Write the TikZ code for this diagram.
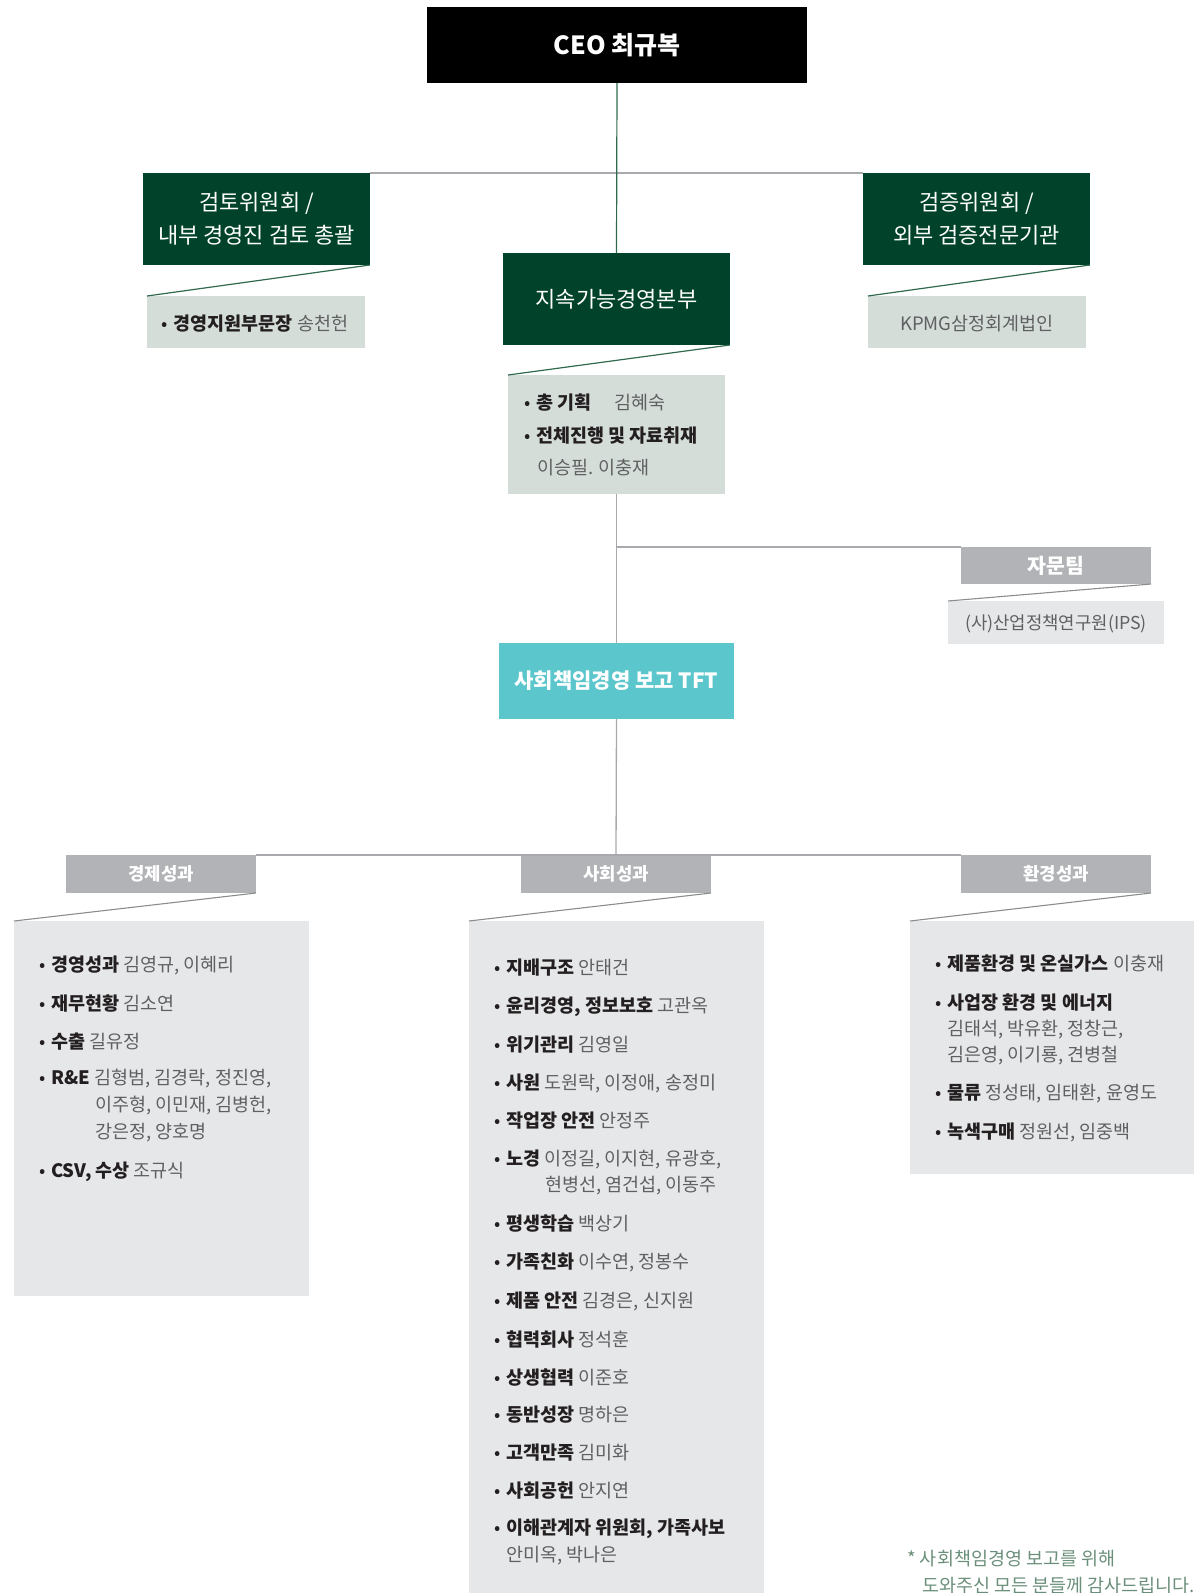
\documentclass[tikz,border=0pt]{standalone}
\usepackage{fontspec}
\setmainfont{Noto Sans CJK KR}
\definecolor{dkgreen}{HTML}{00432A}
\definecolor{subgreen}{HTML}{D5DDD9}
\definecolor{biggray}{HTML}{E6E7E9}
\definecolor{labgray}{HTML}{B1B3B6}
\definecolor{teal}{HTML}{5BC6CB}
\definecolor{linegray}{HTML}{A7A9AC}
\definecolor{diaggray}{HTML}{8A8C8E}
\definecolor{lgreen}{HTML}{2F6A4E}
\definecolor{bk}{HTML}{231F20}
\definecolor{nm}{HTML}{5F6062}
\definecolor{foot}{HTML}{6B8F7A}
\newcommand{\bul}[1]{\makebox[12pt][l]{\textcolor{bk}{•}}\textcolor{bk}{\textbf{#1}}}
\tikzset{
  box/.style={anchor=north west, inner sep=0pt, outer sep=0pt, draw=none},
  dkbox/.style={box, fill=dkgreen, text=white, align=center, font=\fontsize{22}{33}\selectfont},
  subbox/.style={box, fill=subgreen},
  bigbox/.style={box, fill=biggray},
  labbox/.style={box, fill=labgray, text=white, font=\fontsize{17.8}{20}\bfseries\selectfont},
  txt/.style={anchor=west, inner sep=0pt, text=nm, font=\fontsize{18.5}{22}\selectfont},
  ctxt/.style={anchor=center, inner sep=0pt, text=nm, font=\fontsize{18.5}{22}\selectfont},
  gline/.style={draw=linegray, line width=1.3pt},
  grline/.style={draw=lgreen, line width=1.2pt},
  dgline/.style={draw=diaggray, line width=1.1pt},
}
\begin{document}
\begin{tikzpicture}[x=1pt,y=-1pt]
\useasboundingbox (0,0) rectangle (1194,1593);
% ---------- boxes ----------
\node[box, fill=black, text=white, minimum width=380pt, minimum height=76pt, font=\fontsize{25}{30}\bfseries\selectfont] (ceo) at (427,7) {CEO 최규복};
\node[dkbox, minimum width=227pt, minimum height=92pt] (rev) at (143,173) {검토위원회 /\\내부 경영진 검토 총괄};
\node[dkbox, minimum width=227pt, minimum height=92pt] (sus) at (503,253) {지속가능경영본부};
\node[dkbox, minimum width=227pt, minimum height=92pt] (ver) at (863,173) {검증위원회 /\\외부 검증전문기관};
\node[subbox, minimum width=218pt, minimum height=52pt] (revsub) at (147,296) {};
\node[subbox, minimum width=217pt, minimum height=119pt] (sussub) at (508,375) {};
\node[subbox, minimum width=218pt, minimum height=52pt] (versub) at (868,296) {};
\node[box, fill=labgray, text=white, minimum width=190pt, minimum height=37pt, font=\fontsize{20.5}{24}\bfseries\selectfont] (adv) at (961,547) {자문팀};
\node[bigbox, minimum width=216pt, minimum height=43pt] (advsub) at (948,601) {};
\node[box, fill=teal, text=white, minimum width=235pt, minimum height=76pt, font=\fontsize{21}{25}\bfseries\selectfont] (tft) at (499,643) {사회책임경영 보고 TFT};
\node[labbox, minimum width=190pt, minimum height=38pt] (eco) at (66,855) {경제성과};
\node[labbox, minimum width=190pt, minimum height=38pt] (soc) at (521,855) {사회성과};
\node[labbox, minimum width=190pt, minimum height=38pt] (env) at (961,855) {환경성과};
\node[bigbox, minimum width=295pt, minimum height=375pt] (ecobig) at (14,921) {};
\node[bigbox, minimum width=295pt, minimum height=680pt] (socbig) at (469,921) {};
\node[bigbox, minimum width=284pt, minimum height=253pt] (envbig) at (910,921) {};
% ---------- connectors ----------
\coordinate (j1) at (617,547);
\draw[gline] (rev.north east) -- (ver.north west);
\draw[grline] (ceo.south) -- (sus.north);
\draw[grline] (rev.south east) -- (revsub.north west);
\draw[grline] (sus.south east) -- (sussub.north west);
\draw[grline] (ver.south east) -- (versub.north west);
\draw[gline] (sussub.south) -- (tft.north);
\draw[gline] (j1) -- (adv.north west);
\draw[dgline] (adv.south east) -- (advsub.north west);
\draw[gline] (tft.south) -- (soc.north);
\draw[gline] (eco.north east) -- (env.north west);
\draw[dgline] (eco.south east) -- (ecobig.north west);
\draw[dgline] (soc.south east) -- (socbig.north west);
\draw[dgline] (env.south east) -- (envbig.north west);
% ---------- top sub texts ----------
\node[ctxt] (revt) at (255,324) {\bul{경영지원부문장} 송천헌};
\node[ctxt] (vert) at (977,324) {KPMG삼정회계법인};
\node[ctxt, font=\fontsize{17.8}{22}\selectfont] (advt) at (1056,624) {(사)산업정책연구원(IPS)};
\node[txt] (s1) at (524,403) {\bul{총 기획}};
\node[txt] (s1n) at (614,403) {김혜숙};
\node[txt] (s2) at (524,436) {\bul{전체진행 및 자료취재}};
\node[txt] (s3) at (537,468) {이승필. 이충재};
% ---------- economic ----------
\node[txt] (e1) at (39,965) {\bul{경영성과} 김영규, 이혜리};
\node[txt] (e2) at (39,1004) {\bul{재무현황} 김소연};
\node[txt] (e3) at (39,1042) {\bul{수출} 길유정};
\node[txt] (e4) at (39,1079) {\bul{R\&E} 김형범, 김경락, 정진영,};
\node[txt] (e4b) at (95,1106) {이주형, 이민재, 김병헌,};
\node[txt] (e4c) at (95,1133) {강은정, 양호명};
\node[txt] (e5) at (39,1172) {\bul{CSV, 수상} 조규식};
% ---------- social ----------
\node[txt] (c1) at (494,968) {\bul{지배구조} 안태건};
\node[txt] (c2) at (494,1007) {\bul{윤리경영, 정보보호} 고관옥};
\node[txt] (c3) at (494,1045) {\bul{위기관리} 김영일};
\node[txt] (c4) at (494,1083) {\bul{사원} 도원락, 이정애, 송정미};
\node[txt] (c5) at (494,1121) {\bul{작업장 안전} 안정주};
\node[txt] (c6) at (494,1159) {\bul{노경} 이정길, 이지현, 유광호,};
\node[txt] (c6b) at (545,1186) {현병선, 염건섭, 이동주};
\node[txt] (c7) at (494,1224) {\bul{평생학습} 백상기};
\node[txt] (c8) at (494,1262) {\bul{가족친화} 이수연, 정봉수};
\node[txt] (c9) at (494,1301) {\bul{제품 안전} 김경은, 신지원};
\node[txt] (c10) at (494,1339) {\bul{협력회사} 정석훈};
\node[txt] (c11) at (494,1377) {\bul{상생협력} 이준호};
\node[txt] (c12) at (494,1415) {\bul{동반성장} 명하은};
\node[txt] (c13) at (494,1453) {\bul{고객만족} 김미화};
\node[txt] (c14) at (494,1491) {\bul{사회공헌} 안지연};
\node[txt] (c15) at (494,1529) {\bul{이해관계자 위원회, 가족사보}};
\node[txt] (c15b) at (506,1556) {안미옥, 박나은};
% ---------- environment ----------
\node[txt] (v1) at (935,964) {\bul{제품환경 및 온실가스} 이충재};
\node[txt] (v2) at (935,1003) {\bul{사업장 환경 및 에너지}};
\node[txt] (v2b) at (947,1030) {김태석, 박유환, 정창근,};
\node[txt] (v2c) at (947,1056) {김은영, 이기룡, 견병철};
\node[txt] (v3) at (935,1094) {\bul{물류} 정성태, 임태환, 윤영도};
\node[txt] (v4) at (935,1132) {\bul{녹색구매} 정원선, 임중백};
% ---------- footnote ----------
\node[txt, text=foot] (f1) at (907,1559) {* 사회책임경영 보고를 위해};
\node[txt, text=foot] (f2) at (922,1586) {도와주신 모든 분들께 감사드립니다.};
\end{tikzpicture}
\end{document}
